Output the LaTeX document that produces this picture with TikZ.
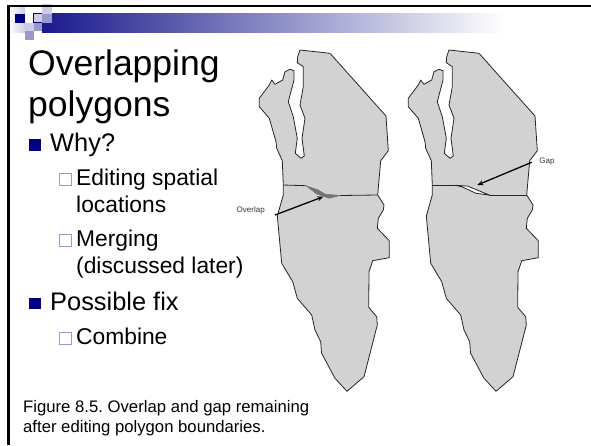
\documentclass[tikz,border=0pt]{standalone}
\usepackage{xcolor}
\usepackage{fontspec}
\setmainfont{Liberation Sans}
\frenchspacing
\definecolor{slidenavy}{HTML}{000080}
\definecolor{slidemid}{HTML}{9999CC}
\definecolor{slidelight}{HTML}{CCCCE6}
\definecolor{slidefade}{HTML}{B5B5CA}
\definecolor{parcelgray}{HTML}{D2D2D2}
\newcommand{\parcelpath}{(300,50) -- (330,53.3) -- (386,116) -- (388.3,150.7) -- (380.7,160.7) -- (377.7,195)
  -- (384,205) -- (383.3,210) -- (378.3,218.3) -- (377.3,228.3) -- (389.3,240.7) -- (389.3,257.7)
  -- (372.7,260.7) -- (369,271.7) -- (368.7,307.3) -- (376.7,316.7) -- (377.3,325) -- (364,376.7)
  -- (347,391.3) -- (335,378.3) -- (321.5,353) -- (320.7,341.7) -- (315,330) -- (311.7,315) -- (297.3,298.3)
  -- (292.7,281.7) -- (281.7,263.3) -- (277.3,216) -- (283.3,195) -- (283.3,185) -- (282.3,160.7)
  -- (276.7,148.3) -- (276,141.7) -- (269.3,118.3) -- (259.3,106.7) -- (259.3,98.3) -- (269.3,85)
  -- (271.7,80) -- (275,84.3) -- (282.7,80) -- (285,71.7) -- (290,69.3) -- (294,70.7) -- (294,80)
  -- (288.3,101.7) -- (293.3,116.7) -- (297.3,138.3) -- (295.3,153.3) -- (301,158.3) -- (304.3,156)
  -- (302,138.3) -- (305,118.3) -- (300,105) -- (303.3,86.7) -- (303.3,66.7) -- (297.3,62.7) -- (297.7,56.7) -- cycle}
\usetikzlibrary{arrows.meta}

\begin{document}
\begin{tikzpicture}[x=1pt,y=-1pt,
  titletext/.style={anchor=base west,inner sep=0pt,font=\fontsize{35.5}{35.5}\selectfont},
  itemtext/.style={anchor=base west,inner sep=0pt,font=\fontsize{25.4}{25.4}\selectfont},
  subtext/.style={anchor=base west,inner sep=0pt,font=\fontsize{22.8}{22.8}\selectfont},
  captiontext/.style={anchor=base west,inner sep=0pt,font=\fontsize{16.7}{16.7}\selectfont},
  tagtext/.style={inner sep=0pt,text=black!80,font=\fontsize{8}{8}\selectfont},
  parcel/.style={fill=parcelgray,draw=black!85,line width=0.8pt,line join=round},
  pointer/.style={-{Stealth[length=6pt,width=5pt]},line width=1.3pt},
  itembox/.style={fill=slidenavy},
  subbox/.style={draw=slidemid,fill=white,line width=1.1pt}]

\useasboundingbox (0,0) rectangle (591,445);

% Banda superior
\shade[left color=white,right color=slidelight] (9,7) rectangle (25,32);
\shade[left color=slidenavy!90!white,middle color=slidefade,right color=white] (42,13.3) rectangle (505,32);

% Cuadros del logo
\fill[slidenavy] (15,14) rectangle (25,22.7);
\filldraw[draw=slidenavy,fill=slidelight,line width=0.8pt] (33.6,13.6) rectangle (42.3,22.7);
\fill[slidelight] (42.3,4) rectangle (51.7,14);
\fill[slidemid] (42.3,14) rectangle (51.7,22.7);
\fill[slidelight] (25,22.7) rectangle (34,31.3);
\fill[slidemid] (34,22.7) rectangle (42.3,31.3);
\fill[slidemid] (25,31.3) rectangle (34,40);

% Marco
\draw[line width=2.3pt] (8.4,445) -- (8.4,6.2) -- (591,6.2);

% Texto de la lamina
\node (title1) at (28,75)[titletext] {Overlapping};
\node (title2) at (28,116.7)[titletext] {polygons};
\node (why) at (50,151.7)[itemtext] {Why?};
\node (edit1) at (76,185.7)[subtext] {Editing spatial};
\node (edit2) at (76,212.3)[subtext] {locations};
\node (merge1) at (76,246.7)[subtext] {Merging};
\node (merge2) at (76,273.3)[subtext] {(discussed later)};
\node (fix) at (50,310)[itemtext] {Possible fix};
\node (combine) at (76,344.3)[subtext] {Combine};
\node (caption1) at (23,412.7)[captiontext] {Figure 8.5. Overlap and gap remaining};
\node (caption2) at (23,432.7)[captiontext] {after editing polygon boundaries.};

% Vinetas
\fill[itembox] (29.3,139.3) rectangle (40.7,150.7);
\fill[itembox] (29.3,297.7) rectangle (40.7,309.3);
\filldraw[subbox] (59.8,173.8) rectangle (71.2,185.2);
\filldraw[subbox] (59.8,234.8) rectangle (71.2,246.2);
\filldraw[subbox] (59.8,332.8) rectangle (71.2,344.2);

% Poligonos con solape
\draw[parcel] \parcelpath;
\draw[black!85,line width=0.8pt] (283.3,185) -- (306,185.7);
\filldraw[draw=black!55,fill=black!55,line width=0.4pt] (306,185.7) -- (318.3,190) -- (325,194) -- (340,195.5)
  -- (329.3,198.3) -- (316.7,194) -- cycle;
\draw[black!85,line width=0.8pt] (340,195.5) -- (377.7,195);

% Poligonos con hueco
\begin{scope}[xshift=149pt]
\draw[parcel] \parcelpath;
\end{scope}
\filldraw[draw=black!85,fill=white,line width=0.8pt] (455,185.3) -- (467.3,186) -- (489.3,195) -- (476,193.3)
  -- (461.7,186.7) -- cycle;
\draw[black!85,line width=0.8pt] (432.3,185.3) -- (455,185.3);
\draw[black!85,line width=0.8pt] (489.3,195) -- (526.7,195);

% Flechas y etiquetas
\node (overlaptag) at (250.7,210)[tagtext] {Overlap};
\node (gaptag) at (547,162)[tagtext] {Gap};
\coordinate (overlaptail) at (275,215);
\coordinate (overlaptip) at (323.3,196.7);
\coordinate (gaptail) at (531.7,162.3);
\coordinate (gaptip) at (477.3,185);
\draw[pointer] (overlaptail) -- (overlaptip);
\draw[pointer] (gaptail) -- (gaptip);

\end{tikzpicture}
\end{document}
